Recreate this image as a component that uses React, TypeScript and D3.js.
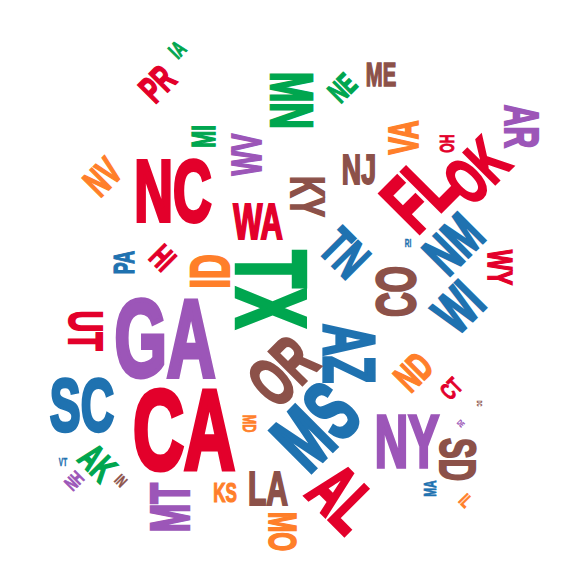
import * as d3 from "d3"

// word cloud of state abbreviations
const words = ["GA", "CA", "TX", "NC", "MS", "FL", "AZ", "NY", "SC", "AL", "OR", "MN", "OK", "NM", "CO", "ID", "MT", "WI", "WA", "SD", "LA", "UT", "AR", "KY", "TN", "NJ", "WV", "VA", "MO", "WY", "NV", "ND", "PR", "ME", "MI", "AK", "HI", "PA", "KS", "NE", "CT", "IA", "OH", "MD", "MA", "NH", "IL", "IN", "VT", "RI", "DE", "DC"]
const counts = [83, 87, 75, 66, 65, 62, 55, 57, 57, 55, 52, 45, 49, 44, 42, 42, 42, 44, 38, 38, 37, 37, 37, 36, 40, 33, 32, 32, 30, 27, 30, 30, 29, 25, 25, 29, 25, 22, 21, 23, 18, 17, 15, 14, 13, 15, 14, 12, 8, 8, 6, 5]
const angles = [0, 0, 90, 0, -45, -45, 90, 0, 0, 45, -45, 90, -45, -45, -90, -90, -90, -45, 0, 90, 0, 90, 90, 90, 45, 0, -90, -90, 90, 90, -45, -45, -45, 0, -90, 45, 45, -90, 0, -45, -45, -45, -90, 90, -90, -45, 45, 45, 0, 0, 45, 90]
// colour group of each word
const groups = ["purple", "red", "green", "red", "blue", "red", "blue", "purple", "blue", "red", "brown", "green", "red", "blue", "brown", "orange", "purple", "blue", "red", "brown", "brown", "red", "purple", "brown", "blue", "brown", "purple", "orange", "orange", "red", "orange", "orange", "red", "brown", "green", "green", "red", "blue", "orange", "green", "red", "green", "red", "orange", "blue", "purple", "orange", "brown", "blue", "blue", "purple", "brown"]
// layout result, relative to the cloud centre
const layoutX = [-116, -97, -9, -108, 34, 137, 69, 126, -199, 62, 1, 11, 195, 172, 114, -72, -112, 177, -23, 177, -13, -195, 241, 27, 64, 78, -35, 122, 2, 220, -179, 132, -124, 100, -78, -183, -118, -157, -56, 61, 170, -104, 166, -31, 149, -207, 185, -160, -218, 127, 180, 198]
const layoutY = [53, 144, 5, -94, 141, -91, 69, 156, 120, 213, 86, -184, -114, -41, 7, -13, 223, 22, -63, 175, 203, 46, -158, -88, -32, -116, -130, -147, 247, -17, -108, 87, -201, -210, -148, 178, -27, -22, 208, -197, 104, -235, -141, 139, 204, 196, 216, 196, 178, -41, 139, 119]

const width = 562
const height = 569

export default function App() {
  const x = d3.scaleLinear().domain([-width / 2, width / 2]).range([0, width])
  const y = d3.scaleLinear().domain([-height / 2, height / 2]).range([0, height])
  const size = d3.scaleLinear().domain([0, 100]).range([0, 131])
  const color = d3
    .scaleOrdinal<string>()
    .domain(["red", "blue", "green", "orange", "purple", "brown"])
    .range(["#e3002b", "#1f72b0", "#00a64f", "#ff7f2a", "#9c56b8", "#8c5149"])

  return (
    <svg width={width} height={height} style={{ position: "absolute", left: 0, top: 0, background: "#fff" }}>
      {words.map((w, i) => {
        const fs = size(counts[i])
        return (
          <text
            key={w}
            textAnchor="middle"
            dy="0.358em"
            transform={`translate(${x(layoutX[i])},${y(layoutY[i])}) rotate(${angles[i]}) scale(0.62,1)`}
            fontFamily="'Liberation Sans', Arial, sans-serif"
            fontWeight="bold"
            fontSize={fs}
            fill={color(groups[i])}
            stroke={color(groups[i])}
            strokeWidth={fs * 0.045}
            strokeLinejoin="miter"
          >
            {w}
          </text>
        )
      })}
    </svg>
  )
}
